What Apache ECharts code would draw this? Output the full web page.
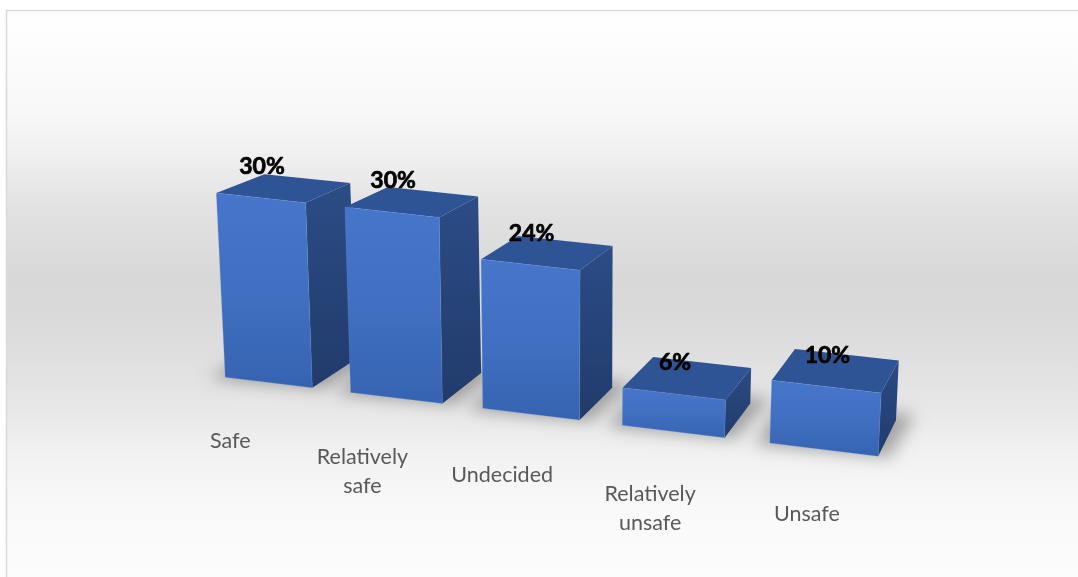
<!DOCTYPE html>
<html>
<head>
<meta charset="utf-8">
<script src="https://cdn.jsdelivr.net/npm/echarts@6/dist/echarts.min.js"></script>
<style>
  html, body { margin: 0; padding: 0; background: #ffffff; }
  #chart { width: 1078px; height: 577px; }
</style>
</head>
<body>
<div id="chart"></div>
<script>
// Survey answers: how safe respondents feel (share of respondents, %)
const categories = ['Safe', 'Relatively\nsafe', 'Undecided', 'Relatively\nunsafe', 'Unsafe'];
const shares = [30, 30, 24, 6, 10];
const valueMax = 30;

// Bars take 70% of each category band
const BAR_RATIO = 0.7;

// 3D view: the flat grid is bent into a perspective box layout
const VIEW = {
  persp: 0.128,          // horizontal foreshortening (left side recedes)
  floorTilt: 0.121,      // slope of the front floor edge
  heightGain: 0.03,      // vertical scale grows toward the near (right) side
  leanX: 560,            // verticals converge to a point far below
  leanDist: 6900,
  vpX: 1198, vpY: -192,  // vanishing point of the depth direction
  depthK: 0.049,         // bar depth as a fraction of the distance to the vanishing point
  depthKSlope: 0.00001,
  labelDepth: -0.85      // category labels sit in front of the bars
};

function projector(rect) {
  const x0 = rect.x, w = rect.width, yBase = rect.y + rect.height;
  return function (fx, fy, d) {
    const u = (fx - x0) / w;
    const su = u * (1 - VIEW.persp) / (1 - VIEW.persp * u);
    let sx = x0 + w * su;
    const h = (yBase - fy) * (1 + VIEW.heightGain * u);
    const sy = yBase + VIEW.floorTilt * (sx - x0) - h;
    sx += (sx - VIEW.leanX) * h / VIEW.leanDist;
    const k = (VIEW.depthK + VIEW.depthKSlope * (sx - 216)) * d;
    return [sx + (VIEW.vpX - sx) * k, sy + (VIEW.vpY - sy) * k];
  };
}

function grad(stops) {
  return new echarts.graphic.LinearGradient(0, 0, 0, 1,
    stops.map((c, i) => ({ offset: i / (stops.length - 1), color: c })));
}

// Soft floor shadow under each bar (shape drawn off-canvas, only its blur lands on the floor)
const SHIFT = 3000;
function shadowItem(params, api) {
  const proj = projector(params.coordSys);
  const i = api.value(0);
  const half = api.size([1, 0])[0] * BAR_RATIO / 2;
  const base = api.coord([i, 0]);
  const xl = base[0] - half, xr = base[0] + half;
  const a = proj(xl, base[1], -0.05), b = proj(xr, base[1], -0.05);
  const c = proj(xr, base[1], 1.15), d = proj(xl, base[1], 1.15);
  const pts = [[a[0] - 14, a[1]], [b[0] + 12, b[1]], [c[0] + 16, c[1]], [d[0] - 16, d[1]]]
    .map(p => [p[0] - SHIFT, p[1]]);
  return {
    type: 'polygon',
    shape: { points: pts },
    style: {
      fill: '#000',
      shadowBlur: 16,
      shadowColor: 'rgba(0,0,0,0.30)',
      shadowOffsetX: SHIFT,
      shadowOffsetY: 0
    }
  };
}

function boxItem(params, api) {
  const proj = projector(params.coordSys);
  const i = api.value(0), v = api.value(1);
  const half = api.size([1, 0])[0] * BAR_RATIO / 2;
  const top = api.coord([i, v]), base = api.coord([i, 0]);
  const xl = top[0] - half, xr = top[0] + half;
  const FLT = proj(xl, top[1], 0), FRT = proj(xr, top[1], 0);
  const FLB = proj(xl, base[1], 0), FRB = proj(xr, base[1], 0);
  const BLT = proj(xl, top[1], 1), BRT = proj(xr, top[1], 1), BRB = proj(xr, base[1], 1);
  const ftc = [(FLT[0] + FRT[0]) / 2, (FLT[1] + FRT[1]) / 2];
  const lab = proj(top[0], base[1], VIEW.labelDepth);
  return {
    type: 'group',
    children: [
      { type: 'polygon', shape: { points: [FRT, BRT, BRB, FRB] },
        style: { fill: grad(['#2c4c86', '#213b6b']) } },
      { type: 'polygon', shape: { points: [FLT, BLT, BRT, FRT] },
        style: { fill: '#2f5496' } },
      { type: 'polygon', shape: { points: [FLT, FRT, FRB, FLB] },
        style: { fill: grad(['#4676ca', '#4170c2', '#3663b1']),
                 stroke: 'rgba(110,150,220,0.45)', lineWidth: 0.6 } },
      { type: 'text', z2: 10,
        style: { text: v + '%', x: ftc[0] + 1, y: ftc[1] - 31.5,
                 align: 'center', verticalAlign: 'middle',
                 font: 'bold 23px Lato, "Liberation Sans", sans-serif', fill: '#000000',
                 stroke: '#000000', lineWidth: 0.7 } },
      { type: 'text', z2: 10,
        style: { text: categories[i], x: lab[0] + 1, y: lab[1] + 19.5,
                 align: 'center', verticalAlign: 'top', lineHeight: 29,
                 font: '21.5px Lato, "Liberation Sans", sans-serif', fill: '#595959' } }
    ]
  };
}

const chart = echarts.init(document.getElementById('chart'), null, { renderer: 'canvas' });
const data = shares.map((v, i) => [i, v]);

chart.setOption({
  animation: false,
  graphic: [
    { type: 'rect', z: -10, silent: true,
      shape: { x: 7, y: 11, width: 1071, height: 566 },
      style: { fill: new echarts.graphic.LinearGradient(0, 0, 0, 1, [
        { offset: 0, color: '#ffffff' },
        { offset: 0.175, color: '#f8f8f8' },
        { offset: 0.265, color: '#eeeeee' },
        { offset: 0.35, color: '#e2e2e2' },
        { offset: 0.47, color: '#d8d8d8' },
        { offset: 0.52, color: '#d9d9d9' },
        { offset: 0.62, color: '#e0e0e0' },
        { offset: 0.705, color: '#e8e8e8' },
        { offset: 0.79, color: '#f2f2f2' },
        { offset: 0.88, color: '#f9f9f9' },
        { offset: 1, color: '#fcfcfc' }
      ]) } },
    { type: 'polyline', z: -9, silent: true,
      shape: { points: [[6.5, 577], [6.5, 10.5], [1078, 10.5]] },
      style: { stroke: '#d9d9d9', lineWidth: 1.5, fill: null } }
  ],
  grid: { left: 207, right: 176, top: 191, bottom: 202 },
  xAxis: { type: 'category', data: categories, show: false },
  yAxis: { type: 'value', min: 0, max: valueMax, show: false },
  series: [
    { type: 'custom', name: 'shadow', z: 1, silent: true, renderItem: shadowItem, data: data },
    { type: 'custom', name: 'share', z: 2, renderItem: boxItem, data: data }
  ]
});
</script>
</body>
</html>
